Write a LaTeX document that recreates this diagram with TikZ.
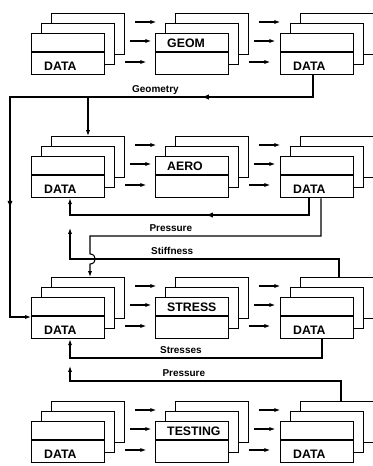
\documentclass[tikz,border=0pt]{standalone}
\usepackage{fontspec}
\setmainfont{Liberation Sans}
\usetikzlibrary{arrows.meta,calc,decorations.markings}

% stapel van drie kaarten: naam, x, y (linksboven voorste kaart), tekst boven, tekst onder
\newcommand{\stapel}[5]{%
  \node[kaart] (#1-b) at (#2+20,#3-20) {};
  \node[kaart] (#1-m) at (#2+10,#3-10) {};
  \node[kaart] (#1-f) at (#2,#3) {};
  \draw[kaartlijn] ($(#1-f.north west)+(0,19)$) -- ($(#1-f.north east)+(0,19)$);
  \node[kaarttekst] (#1-boven) at ($(#1-f.north west)+(12,14.5)$) {#4};
  \node[kaarttekst] (#1-onder) at ($(#1-f.north west)+(13,37.5)$) {#5};
}

\begin{document}
\begin{tikzpicture}[x=0.3mm, y=-0.3mm,
        kaart/.style={draw, fill=white, anchor=north west, minimum width=21.9mm,
            minimum height=12.3mm, inner sep=0pt, line width=1.1pt},
        kaartlijn/.style={line width=0.9pt},
        kaarttekst/.style={anchor=base west, inner sep=0pt, font=\bfseries\fontsize{10.5}{12}\selectfont},
        lijn/.style={line width=0.9pt},
        pijl/.style={lijn, -{Latex[length=5pt, width=3.5pt]}},
        stroomtekst/.style={anchor=base, inner sep=0pt, yshift=1.5mm, font=\bfseries\fontsize{8.5}{10}\selectfont},
        halverwege/.style={postaction={decorate, decoration={markings,
            mark=at position #1 with {\arrow{Latex[length=6pt, width=4.5pt]}}}}}]
    \useasboundingbox (0,0) rectangle (373,466);

    \foreach \r/\t/\naam in {r1/33/GEOM, r2/156/AERO, r3/297/STRESS, r4/421/TESTING} {
        \stapel{\r l}{31}{\t}{}{DATA}
        \stapel{\r m}{155}{\t}{\naam}{}
        \stapel{\r r}{280}{\t}{}{DATA}
    }

    % pijlen tussen de stapels
    \foreach \r in {r1,r2,r3,r4} {
        \foreach \k in {l,m} {
            \draw[pijl] ($(\r\k-b.north east)+(10,9)$) -- ++(21,0);
            \draw[pijl] ($(\r\k-m.north east)+(15,18)$) -- ++(21,0);
            \draw[pijl] ($(\r\k-f.north east)+(20,29)$) -- ++(21,0);
        }
    }

    % Geometry
    \coordinate (geo-a) at ($(r1r-f.south west)+(33,0)$);
    \coordinate (geo-b) at (10,97);
    \coordinate (geo-c) at (10,317);
    \coordinate (geo-tak) at (88,97);
    \draw[pijl, halverwege=0.235, halverwege=0.77] (geo-a) -- (geo-a |- geo-b)
        -- node[stroomtekst, pos=0.52] (t-geo) {Geometry} (geo-b) -- (geo-c) -- (geo-c -| r3l-f.west);
    \draw[pijl] (geo-tak) -- (geo-tak |- r2l-b.north);

    % terug naar AERO
    \coordinate (terug-a) at ($(r2r-f.south west)+(29,0)$);
    \coordinate (terug-b) at (70,215);
    \draw[pijl, halverwege=0.44] (terug-a) -- (terug-a |- terug-b) -- (terug-b) -- (terug-b |- r2l-f.south);

    % Pressure naar STRESS, met sprongetje over Stiffness
    \coordinate (druk-a) at ($(r2r-f.south west)+(41,0)$);
    \coordinate (druk-b) at (90,236);
    \draw[pijl] (druk-a) -- (druk-a |- druk-b) -- node[stroomtekst, pos=0.65] (t-druk) {Pressure} (druk-b)
        -- (90,254) .. controls (97,254) and (97,264) .. (90,264) -- (druk-b |- r3l-b.north);

    % Stiffness
    \coordinate (stijf-a) at ($(r3r-b.north west)+(39,0)$);
    \coordinate (stijf-b) at (70,259);
    \coordinate (stijf-eind) at (70,228);
    \draw[pijl] (stijf-a) -- (stijf-a |- stijf-b) -- node[stroomtekst, pos=0.62] (t-stijf) {Stiffness} (stijf-b) -- (stijf-eind);

    % Stresses
    \coordinate (span-a) at ($(r3r-f.south west)+(42,0)$);
    \coordinate (span-b) at (70,358);
    \draw[pijl] (span-a) -- (span-a |- span-b) -- node[stroomtekst, pos=0.56] (t-span) {Stresses} (span-b) -- (span-b |- r3l-f.south);

    % Pressure uit TESTING
    \coordinate (test-a) at ($(r4r-b.north west)+(41,0)$);
    \coordinate (test-b) at (70,381);
    \coordinate (test-eind) at (70,366);
    \draw[pijl] (test-a) -- (test-a |- test-b) -- node[stroomtekst, pos=0.58] (t-test) {Pressure} (test-b) -- (test-eind);
\end{tikzpicture}
\end{document}
